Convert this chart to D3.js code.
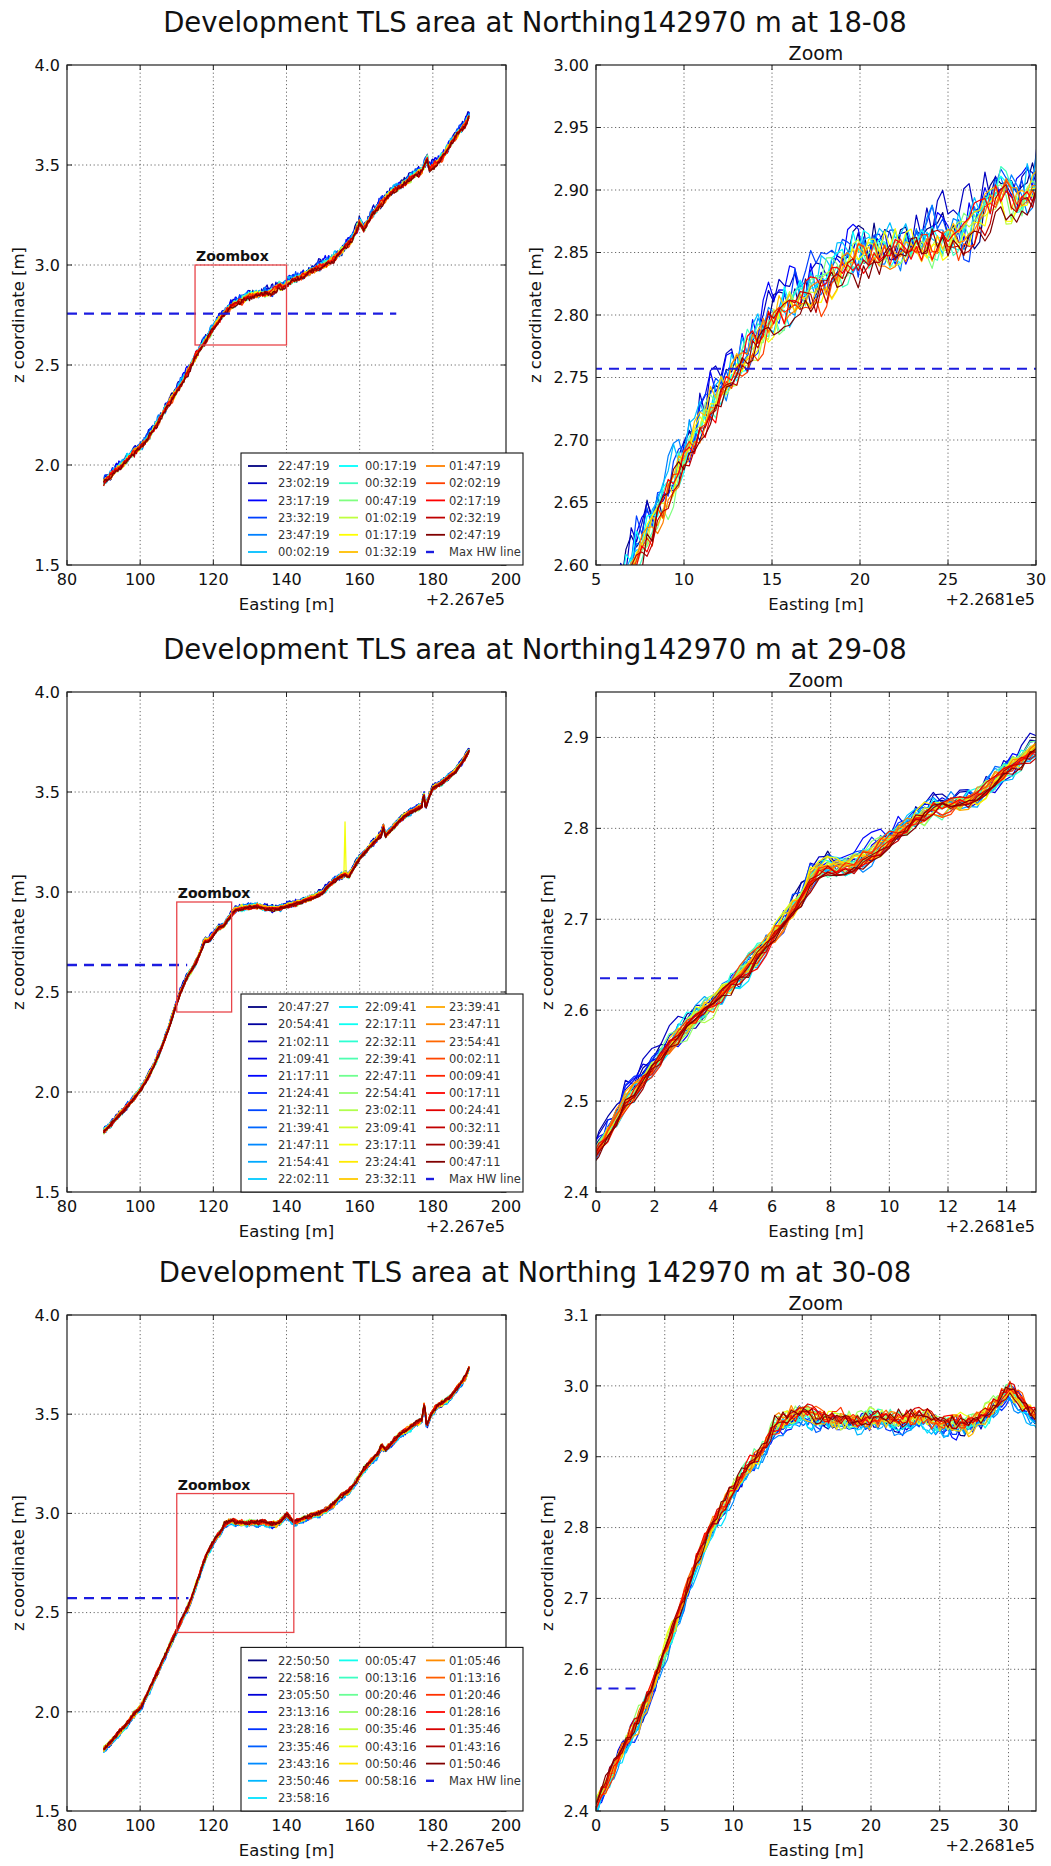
<!DOCTYPE html>
<html><head><meta charset="utf-8">
<script src="https://cdn.jsdelivr.net/npm/d3@7"></script>
<style>body{margin:0;background:#fff}svg{display:block}</style>
</head><body><script>
// ---------------- DATA ----------------
const TIMES_1808 = ["22:47:19","23:02:19","23:17:19","23:32:19","23:47:19","00:02:19","00:17:19","00:32:19","00:47:19","01:02:19","01:17:19","01:32:19","01:47:19","02:02:19","02:17:19","02:32:19","02:47:19"];
const TIMES_2908 = ["20:47:27","20:54:41","21:02:11","21:09:41","21:17:11","21:24:41","21:32:11","21:39:41","21:47:11","21:54:41","22:02:11","22:09:41","22:17:11","22:32:11","22:39:41","22:47:11","22:54:41","23:02:11","23:09:41","23:17:11","23:24:41","23:32:11","23:39:41","23:47:11","23:54:41","00:02:11","00:09:41","00:17:11","00:24:41","00:32:11","00:39:41","00:47:11"];
const TIMES_3008 = ["22:50:50","22:58:16","23:05:50","23:13:16","23:28:16","23:35:46","23:43:16","23:50:46","23:58:16","00:05:47","00:13:16","00:20:46","00:28:16","00:35:46","00:43:16","00:50:46","00:58:16","01:05:46","01:13:16","01:20:46","01:28:16","01:35:46","01:43:16","01:50:46"];
// Max HW line: level [m] and eastward end (overview coordinates, +2.267e5)
const HW_Z = [2.757, 2.635, 2.573];
const HW_X_END = [170, 112.85, 113.2];
// Zoombox extents [x0, x1, z0, z1] in overview coordinates
const ZOOMBOX_1808 = [115, 140, 2.6, 3.0];
const ZOOMBOX_2908 = [110, 125, 2.4, 2.95];
const ZOOMBOX_3008 = [110, 142, 2.4, 3.1];
// Tick labels
const OVER_X_TICKS = [80, 100, 120, 140, 160, 180, 200];
const OVER_Y_TICKS = [1.5, 2.0, 2.5, 3.0, 3.5, 4.0];
const ZOOM_X_TICKS_1808 = [5, 10, 15, 20, 25, 30];
const ZOOM_Y_TICKS_1808 = [2.60, 2.65, 2.70, 2.75, 2.80, 2.85, 2.90, 2.95, 3.00];
const ZOOM_X_TICKS_2908 = [0, 2, 4, 6, 8, 10, 12, 14];
const ZOOM_Y_TICKS_2908 = [2.4, 2.5, 2.6, 2.7, 2.8, 2.9];
const ZOOM_X_TICKS_3008 = [0, 5, 10, 15, 20, 25, 30];
const ZOOM_Y_TICKS_3008 = [2.4, 2.5, 2.6, 2.7, 2.8, 2.9, 3.0, 3.1];
// Mean profiles [easting (+2.267e5), z]
const PROFILE_1808 = [[90,1.91],[91,1.93],[93,1.97],[95,2.00],[97,2.04],[100,2.09],[102,2.13],[104,2.19],[106,2.25],[108,2.31],[110,2.37],[112,2.43],[114,2.50],[115,2.54],[116,2.57],[117,2.595],[118,2.625],[119,2.655],[120,2.685],[121,2.712],[122,2.735],[123,2.758],[124,2.778],[125,2.795],[126,2.806],[127,2.815],[128,2.826],[129,2.836],[130,2.845],[131,2.850],[132,2.853],[133,2.857],[134,2.858],[135,2.860],[136,2.862],[137,2.880],[138,2.900],[139,2.887],[140,2.903],[142,2.93],[144,2.94],[146,2.96],[148,2.98],[150,3.00],[152,3.02],[154,3.05],[156,3.09],[158,3.13],[159.5,3.19],[160,3.22],[161,3.18],[163,3.24],[165,3.29],[167,3.33],[169,3.37],[171,3.39],[173,3.42],[175,3.45],[177,3.47],[178.5,3.53],[179,3.48],[181,3.51],[183,3.55],[185,3.61],[187,3.66],[189,3.71],[190,3.75]];
const PROFILE_2908 = [[90,1.80],[92,1.84],[94,1.88],[96,1.92],[98,1.96],[100,2.01],[102,2.07],[104,2.14],[106,2.23],[108,2.33],[109,2.39],[110,2.445],[110.5,2.47],[111,2.50],[111.5,2.52],[112,2.54],[112.5,2.56],[113,2.578],[113.5,2.595],[114,2.607],[114.5,2.625],[115,2.642],[115.5,2.66],[116,2.68],[116.5,2.70],[117,2.722],[117.5,2.752],[118,2.757],[118.5,2.757],[119,2.765],[119.5,2.775],[120,2.788],[120.5,2.80],[121,2.812],[121.5,2.82],[122,2.825],[122.5,2.828],[123,2.835],[123.5,2.85],[124,2.865],[124.5,2.875],[125,2.888],[125.5,2.90],[126,2.91],[128,2.92],[130,2.925],[132,2.93],[134,2.92],[136,2.915],[138,2.92],[140,2.93],[142,2.94],[144,2.95],[146,2.965],[148,2.98],[150,3.00],[152,3.04],[154,3.07],[156,3.09],[157,3.08],[158,3.11],[160,3.17],[162,3.21],[164,3.25],[166,3.29],[166.5,3.33],[167,3.28],[169,3.32],[171,3.36],[173,3.39],[175,3.41],[177,3.43],[177.5,3.50],[178,3.42],[179,3.48],[180,3.52],[182,3.54],[184,3.57],[186,3.60],[188,3.65],[190,3.71]];
const PROFILE_3008 = [[90,1.81],[92,1.85],[94,1.89],[96,1.93],[98,1.98],[100,2.02],[102,2.09],[104,2.17],[106,2.25],[108,2.33],[109,2.37],[110,2.41],[111,2.45],[112,2.49],[113,2.526],[114,2.57],[115,2.626],[116,2.677],[117,2.733],[118,2.783],[119,2.822],[120,2.856],[121,2.884],[122,2.906],[123,2.945],[124,2.955],[125,2.962],[126,2.955],[127,2.952],[128,2.953],[129,2.95],[130,2.956],[131,2.955],[132,2.95],[133,2.955],[134,2.957],[135,2.945],[136,2.948],[137,2.945],[138,2.956],[139,2.973],[140,2.995],[141,2.975],[142,2.957],[143,2.96],[145,2.975],[147,2.99],[149,3.00],[151,3.02],[153,3.05],[155,3.09],[157,3.11],[159,3.16],[161,3.22],[163,3.26],[165,3.30],[166,3.34],[167,3.32],[169,3.36],[171,3.40],[173,3.42],[175,3.45],[177,3.47],[177.7,3.56],[178.3,3.44],[179.5,3.50],[181,3.54],[183,3.56],[185,3.59],[187,3.64],[189,3.69],[190,3.74]];
// Per-scan offset from the mean profile [m] and scatter of each scan [m]
const BIAS_1808 = [0.006,0.012,0.010,0.008,0.004,0.008,0.003,0.001,0.000,-0.001,-0.002,0.001,-0.002,-0.003,0.000,-0.004,-0.006];
const ROUGH_1808 = [0.027,0.028,0.028,0.026,0.025,0.024,0.021,0.020,0.019,0.018,0.018,0.018,0.018,0.018,0.017,0.017,0.017];
const BIAS_2908 = [0.003,0.004,0.006,0.003,0.005,0.002,0.004,0.001,0.003,0.000,0.002,-0.002,0.001,0.000,-0.001,0.002,0.001,-0.002,0.001,0.003,0.002,0.001,0.001,0.000,-0.001,0.000,-0.002,-0.003,-0.002,-0.003,-0.003,-0.004];
const ROUGH_2908 = [0.018,0.018,0.018,0.018,0.017,0.017,0.017,0.016,0.016,0.016,0.016,0.014,0.014,0.014,0.013,0.013,0.013,0.013,0.013,0.013,0.013,0.013,0.012,0.012,0.012,0.011,0.011,0.011,0.010,0.010,0.010,0.010];
const BIAS_3008 = [-0.003,-0.005,-0.002,-0.006,-0.008,-0.006,-0.010,-0.009,-0.007,-0.003,0.000,0.002,0.003,0.002,0.001,-0.002,-0.003,0.002,0.003,0.000,0.002,0.003,0.001,0.002];
const ROUGH_3008 = [0.015,0.015,0.015,0.015,0.015,0.015,0.014,0.014,0.014,0.014,0.014,0.014,0.014,0.014,0.014,0.014,0.015,0.015,0.014,0.014,0.013,0.013,0.013,0.013];
// Hand-read scan-to-scan scatter pattern (normalised)
const SCATTER = [0.42,-0.81,0.13,0.67,-0.35,-0.92,0.58,0.05,-0.47,0.88,-0.16,0.31,-0.74,0.97,-0.58,0.22,-0.09,0.63,-0.88,0.44,-0.27,0.79,-0.63,0.11,0.52,-0.99,0.36,-0.18,0.71,-0.41,0.06,-0.83,0.49,0.93,-0.55,0.17,-0.69,0.28,-0.12,0.84,-0.37,0.61,-0.95,0.39,0.02,-0.61,0.76,-0.24,0.55,-0.78,0.19,0.90,-0.44,-0.06,0.68,-0.86,0.33,-0.21,0.81,-0.51,0.09,0.47,-0.72,0.25,-0.97,0.64,-0.14,0.38,-0.66,0.86,-0.31,0.15,-0.89,0.57,-0.03,0.73,-0.48,0.29,-0.79,0.99,-0.39,0.07,-0.57,0.45,-0.22,0.82,-0.68,0.34,-0.11,0.59,-0.93,0.23,-0.45,0.77,-0.29,0.51,-0.84];
// Isolated spike (single scan) in 29-08 overview
const SPIKES_2908 = [[19, 156, 3.35]];
const LEGEND_COLS_1808 = [6, 6, 6];
const LEGEND_COLS_2908 = [11, 11, 11];
const LEGEND_COLS_3008 = [9, 8, 8];

// ---------------- LAYOUT ----------------
const W = 1051, H = 1866;
const FONT = '"DejaVu Sans", sans-serif';
const LX0 = 67, LX1 = 506, RX0 = 596, RX1 = 1036;
const ZOOM_SHIFT = 110; // 2.2681e5 - 2.267e5
const X_START = 90, X_END = 190, X_STEP = 0.3;

const ROWS = [
  {top: 65, h: 500, title: "Development TLS area at Northing142970 m at 18-08", times: TIMES_1808, profile: PROFILE_1808, bias: BIAS_1808, rough: ROUGH_1808, spikes: [],
   box: ZOOMBOX_1808, zx: [5, 30], zy: [2.6, 3.0], zxt: ZOOM_X_TICKS_1808, zyt: ZOOM_Y_TICKS_1808, zfmt: ".2f", hw: 0, legendCols: LEGEND_COLS_1808, zyLabelX: 541},
  {top: 692, h: 500, title: "Development TLS area at Northing142970 m at 29-08", times: TIMES_2908, profile: PROFILE_2908, bias: BIAS_2908, rough: ROUGH_2908, spikes: SPIKES_2908,
   box: ZOOMBOX_2908, zx: [0, 15], zy: [2.4, 2.95], zxt: ZOOM_X_TICKS_2908, zyt: ZOOM_Y_TICKS_2908, zfmt: ".1f", hw: 1, legendCols: LEGEND_COLS_2908, zyLabelX: 553},
  {top: 1315, h: 496, title: "Development TLS area at Northing 142970 m at 30-08", times: TIMES_3008, profile: PROFILE_3008, bias: BIAS_3008, rough: ROUGH_3008, spikes: [],
   box: ZOOMBOX_3008, zx: [0, 32], zy: [2.4, 3.1], zxt: ZOOM_X_TICKS_3008, zyt: ZOOM_Y_TICKS_3008, zfmt: ".1f", hw: 2, legendCols: LEGEND_COLS_3008, zyLabelX: 553}
];

function jet(t) {
  const c = v => Math.max(0, Math.min(1, v));
  const r = c(1.5 - Math.abs(4 * t - 3)), g = c(1.5 - Math.abs(4 * t - 2)), b = c(1.5 - Math.abs(4 * t - 1));
  return d3.rgb(r * 255, g * 255, b * 255).formatHex();
}
function interp(p, x) {
  if (x <= p[0][0]) return p[0][1];
  for (let i = 1; i < p.length; i++) {
    if (x <= p[i][0]) { const f = (x - p[i-1][0]) / (p[i][0] - p[i-1][0]); return p[i-1][1] + f * (p[i][1] - p[i-1][1]); }
  }
  return p[p.length - 1][1];
}
function buildSeries(row, s) {
  const L = SCATTER.length, pts = [];
  const n = Math.round((X_END - X_START) / X_STEP);
  for (let k = 0; k <= n; k++) {
    const x = X_START + k * X_STEP;
    const fast = SCATTER[(k * 7 + s * 37) % L];
    const si = k / 7 + s * 11, i0 = Math.floor(si), f = si - i0;
    const slow = SCATTER[i0 % L] * (1 - f) + SCATTER[(i0 + 1) % L] * f;
    pts.push([x, interp(row.profile, x) + row.bias[s] + row.rough[s] * (0.6 * fast + 0.7 * slow)]);
  }
  row.spikes.filter(sp => sp[0] === s).forEach(sp => {
    const k = Math.round((sp[1] - X_START) / X_STEP); pts[k] = [sp[1], sp[2]];
  });
  return pts;
}

const svg = d3.select("body").append("svg").attr("width", W).attr("height", H)
  .style("font-family", FONT);
svg.append("rect").attr("width", W).attr("height", H).attr("fill", "#fff");

let clipId = 0;
function axesFrame(g, x0, x1, y0, y1, xs, ys, xt, yt, yfmt, offsetText, yLabelX) {
  const id = "clip" + (clipId++);
  svg.append("clipPath").attr("id", id).append("rect").attr("x", x0).attr("y", y0).attr("width", x1 - x0).attr("height", y1 - y0);
  const grid = g.append("g").attr("stroke", "#444").attr("stroke-width", 0.8).attr("stroke-dasharray", "1.2,2.6");
  xt.forEach(v => { const X = xs(v); if (X > x0 + 1 && X < x1 - 1) grid.append("line").attr("x1", X).attr("x2", X).attr("y1", y0).attr("y2", y1); });
  yt.forEach(v => { const Y = ys(v); if (Y > y0 + 1 && Y < y1 - 1) grid.append("line").attr("y1", Y).attr("y2", Y).attr("x1", x0).attr("x2", x1); });
  const plot = g.append("g").attr("clip-path", `url(#${id})`);
  return {plot, finish: () => {
    g.append("rect").attr("x", x0).attr("y", y0).attr("width", x1 - x0).attr("height", y1 - y0).attr("fill", "none").attr("stroke", "#222").attr("stroke-width", 1.2);
    const tk = g.append("g").attr("stroke", "#222").attr("stroke-width", 1);
    xt.forEach(v => { const X = xs(v); tk.append("line").attr("x1", X).attr("x2", X).attr("y1", y1).attr("y2", y1 - 5); tk.append("line").attr("x1", X).attr("x2", X).attr("y1", y0).attr("y2", y0 + 5); });
    yt.forEach(v => { const Y = ys(v); tk.append("line").attr("x1", x0).attr("x2", x0 + 5).attr("y1", Y).attr("y2", Y); tk.append("line").attr("x1", x1).attr("x2", x1 - 5).attr("y1", Y).attr("y2", Y); });
    xt.forEach(v => g.append("text").attr("x", xs(v)).attr("y", y1 + 20).attr("text-anchor", "middle").attr("font-size", 16).attr("fill", "#111").text(d3.format("d")(v)));
    yt.forEach(v => g.append("text").attr("x", x0 - 7).attr("y", ys(v)).attr("dy", "0.36em").attr("text-anchor", "end").attr("font-size", 16).attr("fill", "#111").text(d3.format(yfmt)(v)));
    g.append("text").attr("x", (x0 + x1) / 2).attr("y", y1 + 45).attr("text-anchor", "middle").attr("font-size", 16.5).attr("fill", "#111").text("Easting [m]");
    g.append("text").attr("x", x1 - 1).attr("y", y1 + 40).attr("text-anchor", "end").attr("font-size", 16).attr("fill", "#111").text(offsetText);
    g.append("text").attr("transform", `translate(${yLabelX},${(y0 + y1) / 2}) rotate(-90)`).attr("text-anchor", "middle").attr("font-size", 16.5).attr("fill", "#111").text("z coordinate [m]");
  }};
}

ROWS.forEach((row) => {
  const y0 = row.top, y1 = row.top + row.h;
  const g = svg.append("g");
  g.append("text").attr("x", 535).attr("y", y0 - 33).attr("text-anchor", "middle").attr("font-size", 27.5).attr("fill", "#111").text(row.title);
  g.append("text").attr("x", (RX0 + RX1) / 2).attr("y", y0 - 5).attr("text-anchor", "middle").attr("font-size", 19).attr("fill", "#111").text("Zoom");

  const n = row.times.length;
  const colors = row.times.map((t, i) => jet(i / (n - 1)));
  const series = row.times.map((t, i) => buildSeries(row, i));
  const hwZ = HW_Z[row.hw], hwEnd = HW_X_END[row.hw];

  // ---- overview
  const xo = d3.scaleLinear().domain([80, 200]).range([LX0, LX1]);
  const yo = d3.scaleLinear().domain([1.5, 4.0]).range([y1, y0]);
  const A = axesFrame(g.append("g"), LX0, LX1, y0, y1, xo, yo, OVER_X_TICKS, OVER_Y_TICKS, ".1f", "+2.267e5", 24);
  const lo = d3.line().x(d => xo(d[0])).y(d => yo(d[1]));
  series.forEach((pts, i) => A.plot.append("path").attr("d", lo(pts)).attr("fill", "none").attr("stroke", colors[i]).attr("stroke-width", 1.3).attr("stroke-linejoin", "round"));
  A.plot.append("line").attr("x1", xo(80)).attr("x2", xo(hwEnd)).attr("y1", yo(hwZ)).attr("y2", yo(hwZ))
    .attr("stroke", "#1c1ce0").attr("stroke-width", 2.4).attr("stroke-dasharray", "10,7");
  const b = row.box;
  A.plot.append("rect").attr("x", xo(b[0])).attr("y", yo(b[3])).attr("width", xo(b[1]) - xo(b[0])).attr("height", yo(b[2]) - yo(b[3]))
    .attr("fill", "none").attr("stroke", "#e8454a").attr("stroke-width", 1.3);
  A.finish();
  g.append("text").attr("x", xo(b[0]) + 1).attr("y", yo(b[3]) - 4).attr("font-size", 14).attr("font-weight", "bold").attr("fill", "#111").text("Zoombox");

  // ---- legend
  const entries = row.times.map((t, i) => ({label: t, color: colors[i]})).concat([{label: "Max HW line", hw: true}]);
  const nRows = d3.max(row.legendCols), rowH = 17.2;
  const lh = 14 + (nRows - 1) * rowH + 12;
  const lTop = y1 - lh;
  const lg = g.append("g");
  lg.append("rect").attr("x", 241).attr("y", lTop).attr("width", 282).attr("height", lh).attr("fill", "#fff").attr("stroke", "#111").attr("stroke-width", 1.1);
  const handleX = [248, 339, 426], textX = [278, 365, 449];
  let idx = 0;
  row.legendCols.forEach((cnt, c) => {
    for (let r = 0; r < cnt; r++) {
      const e = entries[idx++];
      const cy = lTop + 13 + r * rowH;
      const ln = lg.append("line").attr("x1", handleX[c]).attr("x2", handleX[c] + 19).attr("y1", cy).attr("y2", cy);
      if (e.hw) ln.attr("stroke", "#1c1ce0").attr("stroke-width", 2.4).attr("stroke-dasharray", "8,30");
      else ln.attr("stroke", e.color).attr("stroke-width", 1.8);
      lg.append("text").attr("x", textX[c]).attr("y", cy).attr("dy", "0.36em").attr("font-size", 11.5).attr("fill", "#333").text(e.label);
    }
  });

  // ---- zoom
  const xz = d3.scaleLinear().domain(row.zx).range([RX0, RX1]);
  const yz = d3.scaleLinear().domain(row.zy).range([y1, y0]);
  const Z = axesFrame(g.append("g"), RX0, RX1, y0, y1, xz, yz, row.zxt, row.zyt, row.zfmt, "+2.2681e5", row.zyLabelX);
  const lz = d3.line().x(d => xz(d[0] - ZOOM_SHIFT)).y(d => yz(d[1]));
  series.forEach((pts, i) => {
    const sub = pts.filter(d => d[0] - ZOOM_SHIFT >= row.zx[0] - 1 && d[0] - ZOOM_SHIFT <= row.zx[1] + 1);
    Z.plot.append("path").attr("d", lz(sub)).attr("fill", "none").attr("stroke", colors[i]).attr("stroke-width", 1.2).attr("stroke-linejoin", "round");
  });
  Z.plot.append("line").attr("x1", xz(80 - ZOOM_SHIFT)).attr("x2", xz(hwEnd - ZOOM_SHIFT)).attr("y1", yz(hwZ)).attr("y2", yz(hwZ))
    .attr("stroke", "#1c1ce0").attr("stroke-width", 2).attr("stroke-dasharray", "10,7");
  Z.finish();
});
</script></body></html>
